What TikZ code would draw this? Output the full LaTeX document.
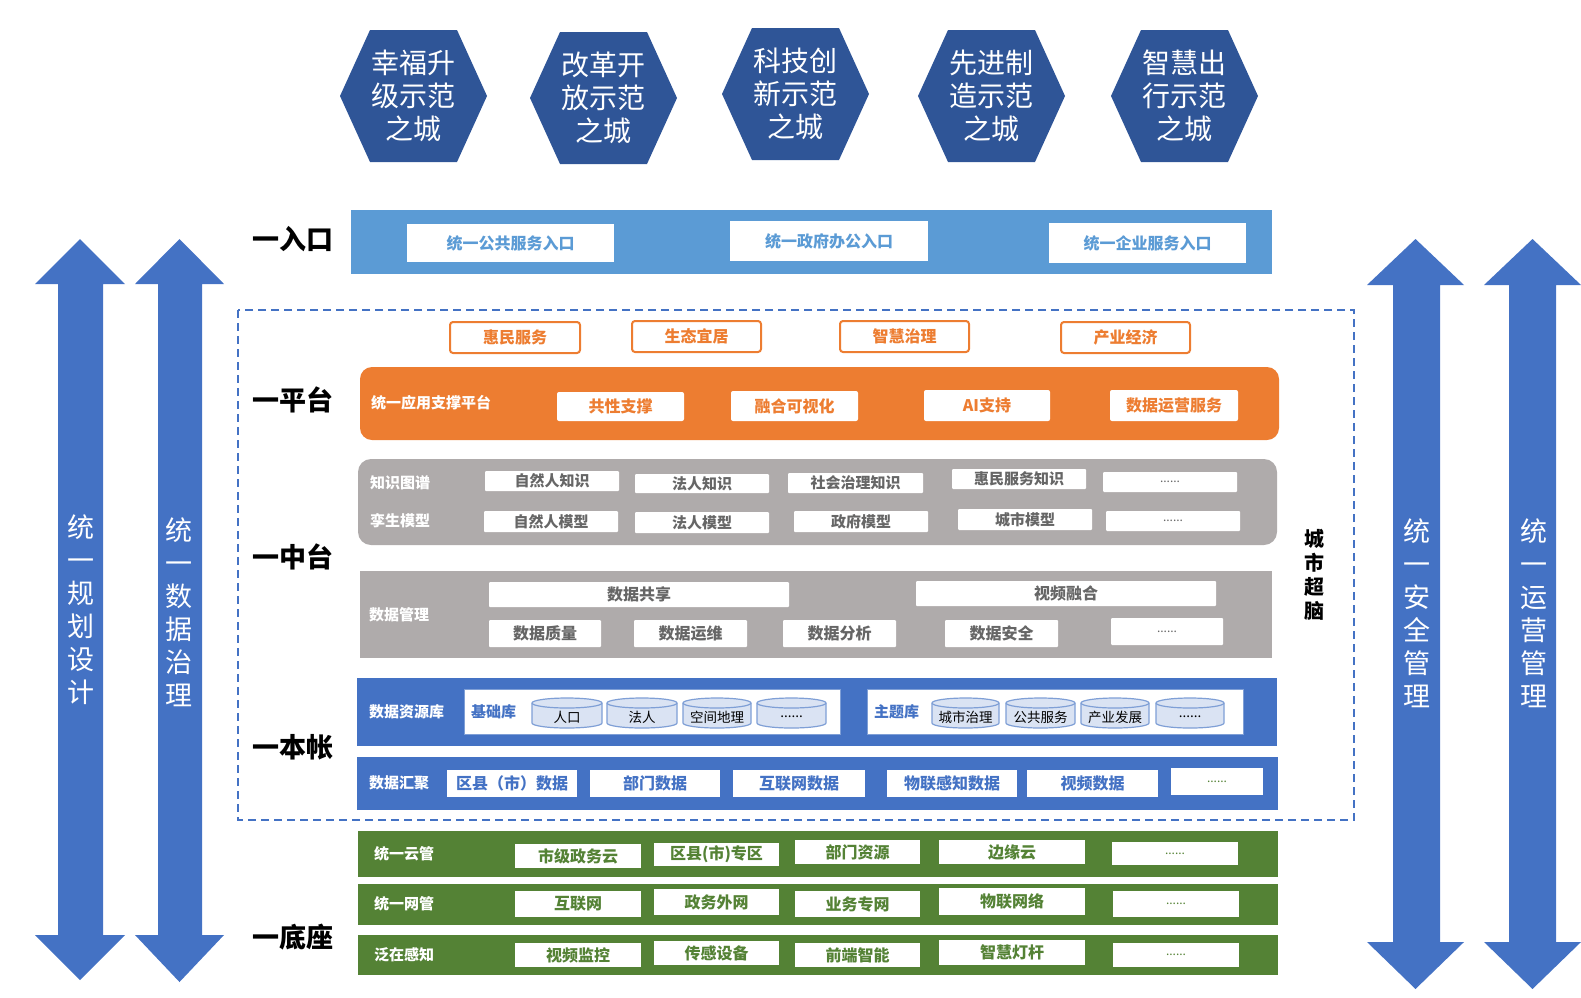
\documentclass[tikz,border=0pt]{standalone}
\usepackage{fontspec}
\setmainfont{Noto Sans CJK SC}
\definecolor{hexblue}{HTML}{2F5597}
\definecolor{arrblue}{HTML}{4472C4}
\definecolor{entblue}{HTML}{5B9BD5}
\definecolor{orng}{HTML}{ED7D31}
\definecolor{gry}{HTML}{AFABAB}
\definecolor{grytext}{HTML}{666666}
\definecolor{grn}{HTML}{548235}
\definecolor{cylfill}{HTML}{DAE3F3}
\definecolor{cyldraw}{HTML}{7F9FD6}
\newcommand\bx[7]{\node[#1,minimum width={#5-#3},minimum height={#6-#4}] (#2) at ({(#3+#5)/2},{(#4+#6)/2}) {#7};}
\newcommand\hexa[4]{\fill[hexblue] ({#2-73},#3) -- ({#2-43},{#3-66}) -- ({#2+44},{#3-66}) -- ({#2+74},#3) -- ({#2+44},{#3+66}) -- ({#2-43},{#3+66}) -- cycle;
  \node[hextext] (#1) at (#2,#3) {#4};}
\newcommand\dblarr[9]{\fill[arrblue] ({(#2+#5)/2},#6) -- (#5,#7) -- (#4,#7) -- (#4,#8) -- (#5,#8) -- ({(#2+#5)/2},#9) -- (#2,#8) -- (#3,#8) -- (#3,#7) -- (#2,#7) -- cycle;
  \coordinate (#1) at ({(#2+#5)/2},#6);}
\newcommand\cyl[6]{\filldraw[fill=cylfill,draw=cyldraw,line width=1.2pt] (#2,{#4+5}) -- (#2,{#5-5}) arc[start angle=180,end angle=360,x radius={(#3-#2)/2*1pt},y radius=5pt] -- (#3,{#4+5}) arc[start angle=0,end angle=180,x radius={(#3-#2)/2*1pt},y radius=5pt] -- cycle;
  \draw[cyldraw,line width=1.2pt] (#2,{#4+5}) arc[start angle=180,end angle=360,x radius={(#3-#2)/2*1pt},y radius=5pt];
  \node[cyltext] (#1) at ({(#2+#3)/2},{(#4+#5)/2+4}) {#6};}
\begin{document}
\begin{tikzpicture}[x=1pt,y=-1pt,
  every node/.style={inner sep=0pt,outer sep=0pt},
  hextext/.style={text=white,font=\fontsize{28}{33}\selectfont,align=center},
  layer/.style={font=\bfseries\fontsize{27}{30}\selectfont,text=black},
  vtext/.style={text=white,font=\fontsize{27}{33}\selectfont,align=center},
  entbox/.style={fill=white,text=entblue,font=\bfseries\fontsize{16}{18}\selectfont},
  obox/.style={draw=orng,line width=2pt,rounded corners=3pt,fill=white,text=orng,font=\bfseries\fontsize{16}{18}\selectfont},
  owbox/.style={fill=white,rounded corners=2pt,text=orng,font=\bfseries\fontsize{16}{18}\selectfont},
  gbox/.style={fill=white,rounded corners=1pt,text=grytext,font=\bfseries\fontsize{15}{17}\selectfont},
  gbox2/.style={fill=white,rounded corners=1pt,text=grytext,font=\bfseries\fontsize{16}{18}\selectfont},
  bbox/.style={fill=white,text=arrblue,font=\bfseries\fontsize{16}{18}\selectfont},
  grbox/.style={fill=white,text=grn,font=\bfseries\fontsize{16}{18}\selectfont},
  panel/.style={fill=white,draw=cyldraw,line width=0.8pt},
  wlabel/.style={anchor=west,text=white,font=\bfseries\fontsize{15}{17}\selectfont},
  cyltext/.style={text=black,font=\fontsize{13.5}{15}\selectfont},
  dots/.style={font=\fontsize{12}{14}\selectfont}]
\useasboundingbox (0,0) rectangle (1581,997);
% hexagons
\hexa{h1}{413}{96}{幸福升\\级示范\\之城}
\hexa{h2}{603}{98}{改革开\\放示范\\之城}
\hexa{h3}{795}{94}{科技创\\新示范\\之城}
\hexa{h4}{991}{96}{先进制\\造示范\\之城}
\hexa{h5}{1184}{96}{智慧出\\行示范\\之城}
% side arrows
\dblarr{a1}{35}{58}{103}{125}{239}{284}{935}{980}
\dblarr{a2}{135}{158}{202}{224}{239}{284}{935}{982}
\dblarr{a3}{1367}{1393}{1440}{1464}{239}{285}{942}{989}
\dblarr{a4}{1484}{1509}{1556}{1581}{239}{285}{942}{989}
\node[vtext] (t1) at (81,610) {统\\一\\规\\划\\设\\计};
\node[vtext] (t2) at (179,612) {统\\一\\数\\据\\治\\理};
\node[vtext] (t3) at (1417,613) {统\\一\\安\\全\\管\\理};
\node[vtext] (t4) at (1534,613) {统\\一\\运\\营\\管\\理};
% layer labels
\node[layer] (L1) at (293,239) {一入口};
\node[layer] (L2) at (293,400) {一平台};
\node[layer] (L3) at (293,557) {一中台};
\node[layer] (L4) at (293,747) {一本帐};
\node[layer] (L5) at (293,937) {一底座};
% entry
\fill[entblue] (351,210) rectangle (1272,274);
\bx{entbox}{e1}{407}{224}{614}{262}{统一公共服务入口}
\bx{entbox}{e2}{730}{221}{928}{261}{统一政府办公入口}
\bx{entbox}{e3}{1049}{223}{1246}{263}{统一企业服务入口}
% dashed frame
\draw[arrblue,line width=1.4pt,dash pattern=on 8pt off 5pt] (238,310) rectangle (1354,820);
\node[font=\bfseries\fontsize{20}{24}\selectfont,align=center] (brain) at (1314,575) {城\\市\\超\\脑};
% orange applications
\bx{obox}{o1}{450}{322}{580}{353}{惠民服务}
\bx{obox}{o2}{632}{321}{761}{352}{生态宜居}
\bx{obox}{o3}{840}{321}{969}{352}{智慧治理}
\bx{obox}{o4}{1061}{322}{1190}{353}{产业经济}
\fill[orng,rounded corners=12pt] (360,367) rectangle (1279,440);
\node[wlabel] (pl) at (371,403) {统一应用支撑平台};
\bx{owbox}{p1}{557}{392}{684}{421}{共性支撑}
\bx{owbox}{p2}{731}{391}{858}{421}{融合可视化}
\bx{owbox}{p3}{924}{390}{1050}{421}{AI支持}
\bx{owbox}{p4}{1110}{390}{1238}{421}{数据运营服务}
% gray 1
\fill[gry,rounded corners=13pt] (358,459) rectangle (1277,545);
\node[wlabel] (k0) at (370,483) {知识图谱};
\node[wlabel] (m0) at (370,521) {孪生模型};
\bx{gbox}{k1}{485}{471}{619}{491}{自然人知识}
\bx{gbox}{k2}{635}{474}{769}{493}{法人知识}
\bx{gbox}{k3}{788}{473}{923}{493}{社会治理知识}
\bx{gbox}{k4}{952}{469}{1086}{489}{惠民服务知识}
\bx{gbox,dots}{k5}{1103}{472}{1237}{492}{......}
\bx{gbox}{m1}{484}{511}{618}{532}{自然人模型}
\bx{gbox}{m2}{635}{512}{769}{533}{法人模型}
\bx{gbox}{m3}{794}{511}{928}{532}{政府模型}
\bx{gbox}{m4}{958}{509}{1092}{530}{城市模型}
\bx{gbox,dots}{m5}{1106}{511}{1240}{531}{......}
% gray 2
\fill[gry] (360,571) rectangle (1272,658);
\node[wlabel] (d0) at (369,615) {数据管理};
\bx{gbox2}{d1}{489}{582}{789}{607}{数据共享}
\bx{gbox2}{d2}{916}{581}{1216}{606}{视频融合}
\bx{gbox2}{d3}{489}{620}{601}{647}{数据质量}
\bx{gbox2}{d4}{634}{620}{747}{647}{数据运维}
\bx{gbox2}{d5}{783}{620}{896}{647}{数据分析}
\bx{gbox2}{d6}{945}{620}{1058}{647}{数据安全}
\bx{gbox2,dots}{d7}{1111}{618}{1223}{645}{......}
% blue resource
\fill[arrblue] (357,678) rectangle (1277,746);
\node[wlabel] (r0) at (369,712) {数据资源库};
\bx{panel}{rp1}{464}{689}{840}{734}{}
\bx{panel}{rp2}{867}{689}{1243}{734}{}
\node[anchor=west,text=arrblue,font=\bfseries\fontsize{15}{17}\selectfont] (r1) at (471,712) {基础库};
\node[anchor=west,text=arrblue,font=\bfseries\fontsize{15}{17}\selectfont] (r2) at (874,712) {主题库};
\cyl{c1}{532}{602}{698}{728}{人口}
\cyl{c2}{607}{677}{698}{728}{法人}
\cyl{c3}{683}{751}{698}{728}{空间地理}
\cyl{c4}{757}{826}{698}{728}{......}
\cyl{c5}{932}{999}{698}{728}{城市治理}
\cyl{c6}{1006}{1075}{698}{728}{公共服务}
\cyl{c7}{1081}{1149}{698}{728}{产业发展}
\cyl{c8}{1156}{1224}{698}{728}{......}
% blue gather
\fill[arrblue] (357,757) rectangle (1278,810);
\node[wlabel] (g0) at (369,783) {数据汇聚};
\bx{bbox}{g1}{447}{770}{577}{797}{区县（市）数据}
\bx{bbox}{g2}{590}{770}{720}{797}{部门数据}
\bx{bbox}{g3}{733}{770}{865}{797}{互联网数据}
\bx{bbox}{g4}{887}{770}{1017}{797}{物联感知数据}
\bx{bbox}{g5}{1027}{770}{1158}{797}{视频数据}
\bx{grbox,dots}{g6}{1171}{768}{1263}{795}{......}
% green rows
\fill[grn] (358,831) rectangle (1278,877);
\fill[grn] (358,884) rectangle (1278,925);
\fill[grn] (358,935) rectangle (1278,975);
\node[wlabel] (y0) at (374,854) {统一云管};
\node[wlabel] (n0) at (374,904) {统一网管};
\node[wlabel] (s0) at (374,955) {泛在感知};
\bx{grbox}{y1}{515}{844}{641}{868}{市级政务云}
\bx{grbox}{y2}{654}{843}{779}{866}{区县(市)专区}
\bx{grbox}{y3}{795}{840}{920}{864}{部门资源}
\bx{grbox}{y4}{939}{840}{1085}{864}{边缘云}
\bx{grbox,dots}{y5}{1112}{842}{1238}{865}{......}
\bx{grbox}{n1}{515}{891}{641}{917}{互联网}
\bx{grbox}{n2}{654}{889}{779}{915}{政务外网}
\bx{grbox}{n3}{795}{891}{920}{917}{业务专网}
\bx{grbox}{n4}{939}{888}{1085}{915}{物联网络}
\bx{grbox,dots}{n5}{1113}{891}{1239}{917}{......}
\bx{grbox}{s1}{515}{943}{641}{967}{视频监控}
\bx{grbox}{s2}{654}{941}{779}{965}{传感设备}
\bx{grbox}{s3}{795}{943}{920}{967}{前端智能}
\bx{grbox}{s4}{939}{940}{1085}{965}{智慧灯杆}
\bx{grbox,dots}{s5}{1113}{943}{1239}{967}{......}
\end{tikzpicture}
\end{document}
